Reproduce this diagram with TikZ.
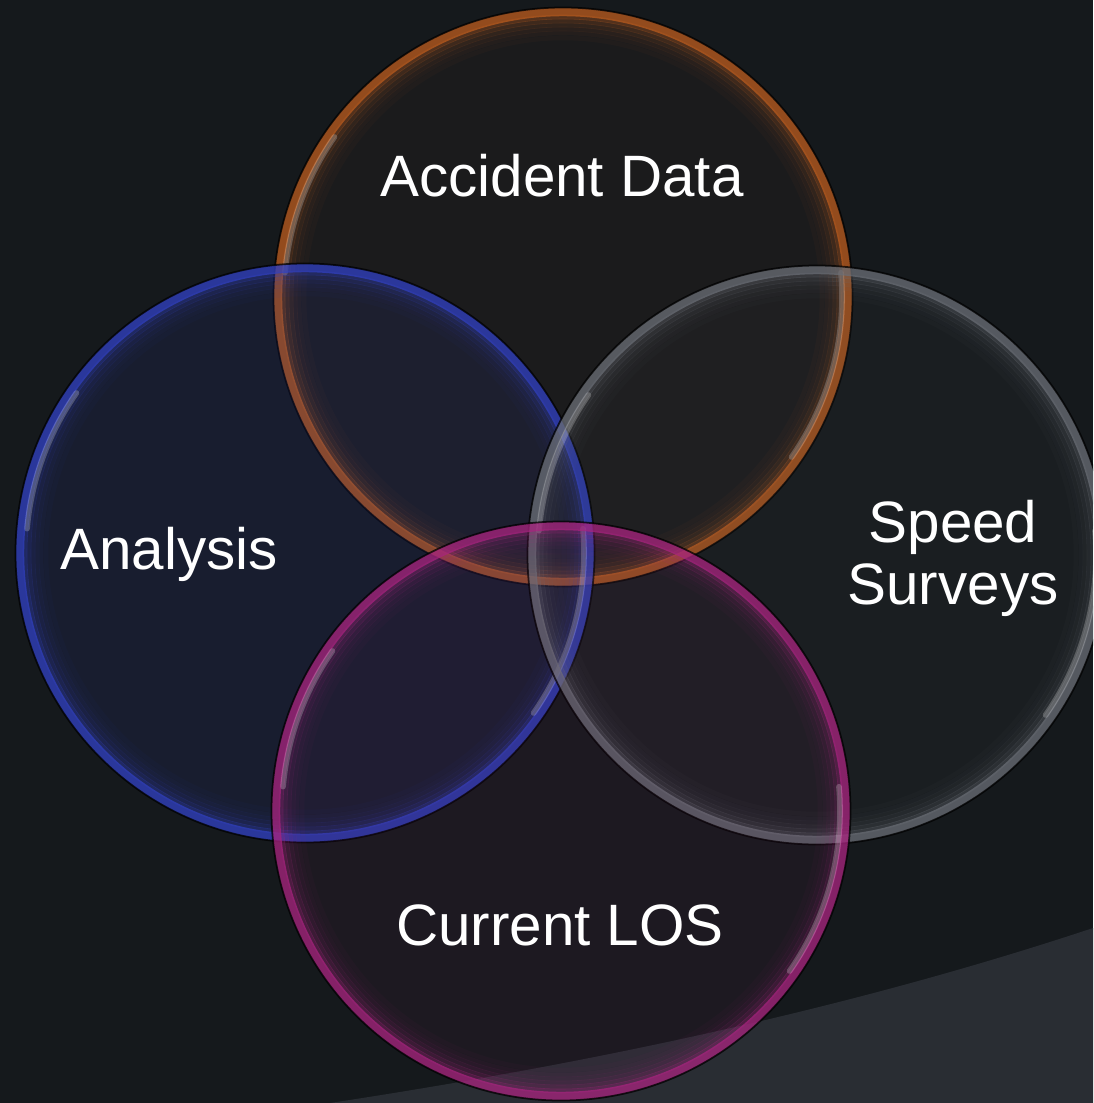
\documentclass[tikz,border=0pt]{standalone}
\usepackage{fontspec}
\setmainfont{Liberation Sans}

\definecolor{bgdark}{HTML}{15191C}
\definecolor{floorgrey}{HTML}{292D33}
\definecolor{accorange}{HTML}{BC5C1E}
\definecolor{anablue}{HTML}{3140C0}
\definecolor{speedgrey}{HTML}{6A6E76}
\definecolor{losmagenta}{HTML}{A8247F}

\tikzset{
  venntext/.style={text=white, font=\fontsize{16.6}{17.35}\selectfont, align=center, anchor=base, inner sep=0pt},
  rim/.style={line width=2.4pt, opacity=0.75},
  glint/.style={white, line width=1.6pt, opacity=0.22, line cap=round}
}

\begin{document}
\begin{tikzpicture}[x=0.01cm, y=-0.01cm]
\useasboundingbox (0,0) rectangle (1093,1103);
\fill[bgdark] (0,0) rectangle (1093,1103);
\clip (0,0) rectangle (1093,1103);

% floor at the bottom right
\fill[floorgrey] (330,1103) .. controls (580,1065) and (843,1011) .. (1093,928) -- (1093,1103) -- cycle;

% the four bubbles
\foreach \cx/\cy/\col/\tint in {563/297/accorange/0.04, 305/553/anablue/0.12, 817/555/speedgrey/0.06, 561/811/losmagenta/0.06}{
  \fill[\col, opacity=\tint] (\cx,\cy) circle (289);
  \foreach \r/\o in {259/0.04, 264/0.06, 268/0.09, 272/0.14, 276/0.22, 280/0.35}
    \draw[\col, line width=1.3pt, opacity=\o] (\cx,\cy) circle (\r);
  \draw[\col, rim] (\cx,\cy) circle (285);
  \draw[black, line width=0.5pt, opacity=0.75] (\cx,\cy) circle (289.5);
  \draw[glint] ([shift={(185:279)}]\cx,\cy) arc (185:215:279);
  \draw[glint] ([shift={(-5:279)}]\cx,\cy) arc (-5:35:279);
}

% labels
\node[venntext] (accident) at (562,196) {Accident Data};
\node[venntext] (analysis) at (169,569) {Analysis};
\node[venntext] (speed) at (953,604) {Speed\\Surveys};
\node[venntext] (los) at (560,945) {Current LOS};
\end{tikzpicture}
\end{document}
